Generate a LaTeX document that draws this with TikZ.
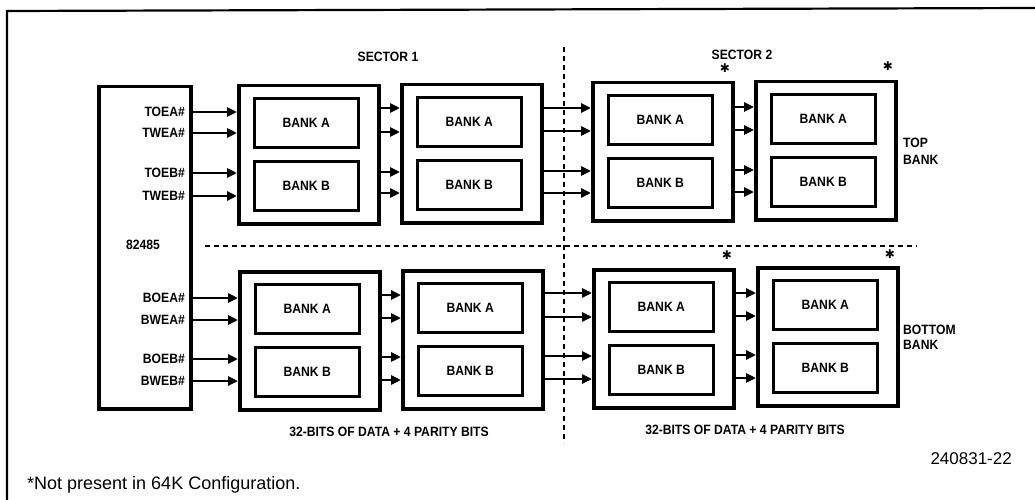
\documentclass[tikz,border=0pt]{standalone}
\usepackage{fontspec}
\setmainfont{Liberation Sans}
\newfontfamily\symfont{DejaVu Sans}
\newfontfamily\lblfont[FakeStretch=0.9]{Liberation Sans Bold}
\usetikzlibrary{arrows.meta}
\newcommand\memblock[3]{%
  \node[outerbox] (#1) at (#2,#3) {};
  \node[bankbox] (#1a) at ([xshift=16pt,yshift=-13pt]#1.north west) {BANK A};
  \node[bankbox] (#1b) at ([xshift=16pt,yshift=-76pt]#1.north west) {BANK B};
}
\begin{document}
\begin{tikzpicture}[x=1pt,y=-1pt,
  outerbox/.style={draw, line width=3.5pt, minimum width=140pt, minimum height=138pt, anchor=north west, inner sep=0pt},
  bankbox/.style={draw, line width=2.6pt, minimum width=104pt, minimum height=49pt, anchor=north west, inner sep=0pt, font=\lblfont\fontsize{13.5}{15}\selectfont},
  ctlbox/.style={draw, line width=3.5pt, anchor=north west, minimum width=92pt, minimum height=322pt, inner sep=0pt},
  sig/.style={line width=2.5pt, -{Triangle[length=10pt,width=9pt]}},
  lbl/.style={inner sep=0pt, font=\lblfont\fontsize{13.5}{15}\selectfont},
  star/.style={inner sep=0pt, font=\symfont\fontsize{12}{14}\selectfont},
  dashline/.style={line width=1.8pt, dash pattern=on 5pt off 4pt},
  frameline/.style={line width=2.2pt}
]
\useasboundingbox (0,0) rectangle (1035,500);
% frame
\draw[frameline] (7,500) -- (7,11) -- (1035,8);

% controller
\node[ctlbox] (ctl) at (97,85) {};
\node[lbl] (c82485) at (143,245) {82485};
\node[lbl, anchor=east] (toea) at (185,112) {TOEA\#};
\node[lbl, anchor=east] (twea) at (185,133) {TWEA\#};
\node[lbl, anchor=east] (toeb) at (185,173) {TOEB\#};
\node[lbl, anchor=east] (tweb) at (185,196) {TWEB\#};
\node[lbl, anchor=east] (boea) at (185,298) {BOEA\#};
\node[lbl, anchor=east] (bwea) at (185,320) {BWEA\#};
\node[lbl, anchor=east] (boeb) at (185,359) {BOEB\#};
\node[lbl, anchor=east] (bweb) at (185,381) {BWEB\#};

% memory blocks
\memblock{t1}{237}{84}
\memblock{t2}{400}{83}
\memblock{t3}{591}{81}
\memblock{t4}{754}{80}
\memblock{b1}{238}{270}
\memblock{b2}{401}{269}
\memblock{b3}{592}{268}
\memblock{b4}{756}{266}

% arrows top
\foreach \y in {112,133,173,196} \draw[sig] (ctl.east |- 0,\y) -- (t1.west |- 0,\y);
\foreach \y in {108,132,172,193} \draw[sig] (t1.east |- 0,\y) -- (t2.west |- 0,\y);
\foreach \y in {108,131,171,193} \draw[sig] (t2.east |- 0,\y) -- (t3.west |- 0,\y);
\foreach \y in {107,130,170,192} \draw[sig] (t3.east |- 0,\y) -- (t4.west |- 0,\y);
% arrows bottom
\foreach \y in {298,320,359,381} \draw[sig] (ctl.east |- 0,\y) -- (b1.west |- 0,\y);
\foreach \y in {295,318,357,380} \draw[sig] (b1.east |- 0,\y) -- (b2.west |- 0,\y);
\foreach \y in {293,317,356,379} \draw[sig] (b2.east |- 0,\y) -- (b3.west |- 0,\y);
\foreach \y in {293,316,355,378} \draw[sig] (b3.east |- 0,\y) -- (b4.west |- 0,\y);

% dashed dividers
\draw[dashline] (564,47) -- (564,443);
\draw[dashline] (205,246) -- (917,246);

% labels
\node[lbl] (sec1) at (388,57) {SECTOR 1};
\node[lbl] (sec2) at (742,55) {SECTOR 2};
\node[star] (s1) at (725,68) {✱};
\node[star] (s2) at (888,66) {✱};
\node[star] (s3) at (727,255) {✱};
\node[star] (s4) at (890,254) {✱};
\node[lbl, anchor=west, align=left, font=\lblfont\fontsize{13.5}{17}\selectfont] (topbank) at (903,151) {TOP\\BANK};
\node[lbl, anchor=west, align=left, font=\lblfont\fontsize{13.5}{15}\selectfont] (botbank) at (903,337) {BOTTOM\\BANK};
\node[lbl, font=\lblfont\fontsize{13.5}{15}\selectfont] (bits1) at (389,432) {32-BITS OF DATA + 4 PARITY BITS};
\node[lbl, font=\lblfont\fontsize{13.5}{15}\selectfont] (bits2) at (745,430) {32-BITS OF DATA + 4 PARITY BITS};
\node[inner sep=0pt, anchor=east, font=\fontsize{17}{20}\selectfont] (fig) at (1012,459) {240831-22};
\node[inner sep=0pt, anchor=west, font=\fontsize{18}{21}\selectfont] (note) at (27,485) {*Not present in 64K Configuration.};
\end{tikzpicture}
\end{document}
